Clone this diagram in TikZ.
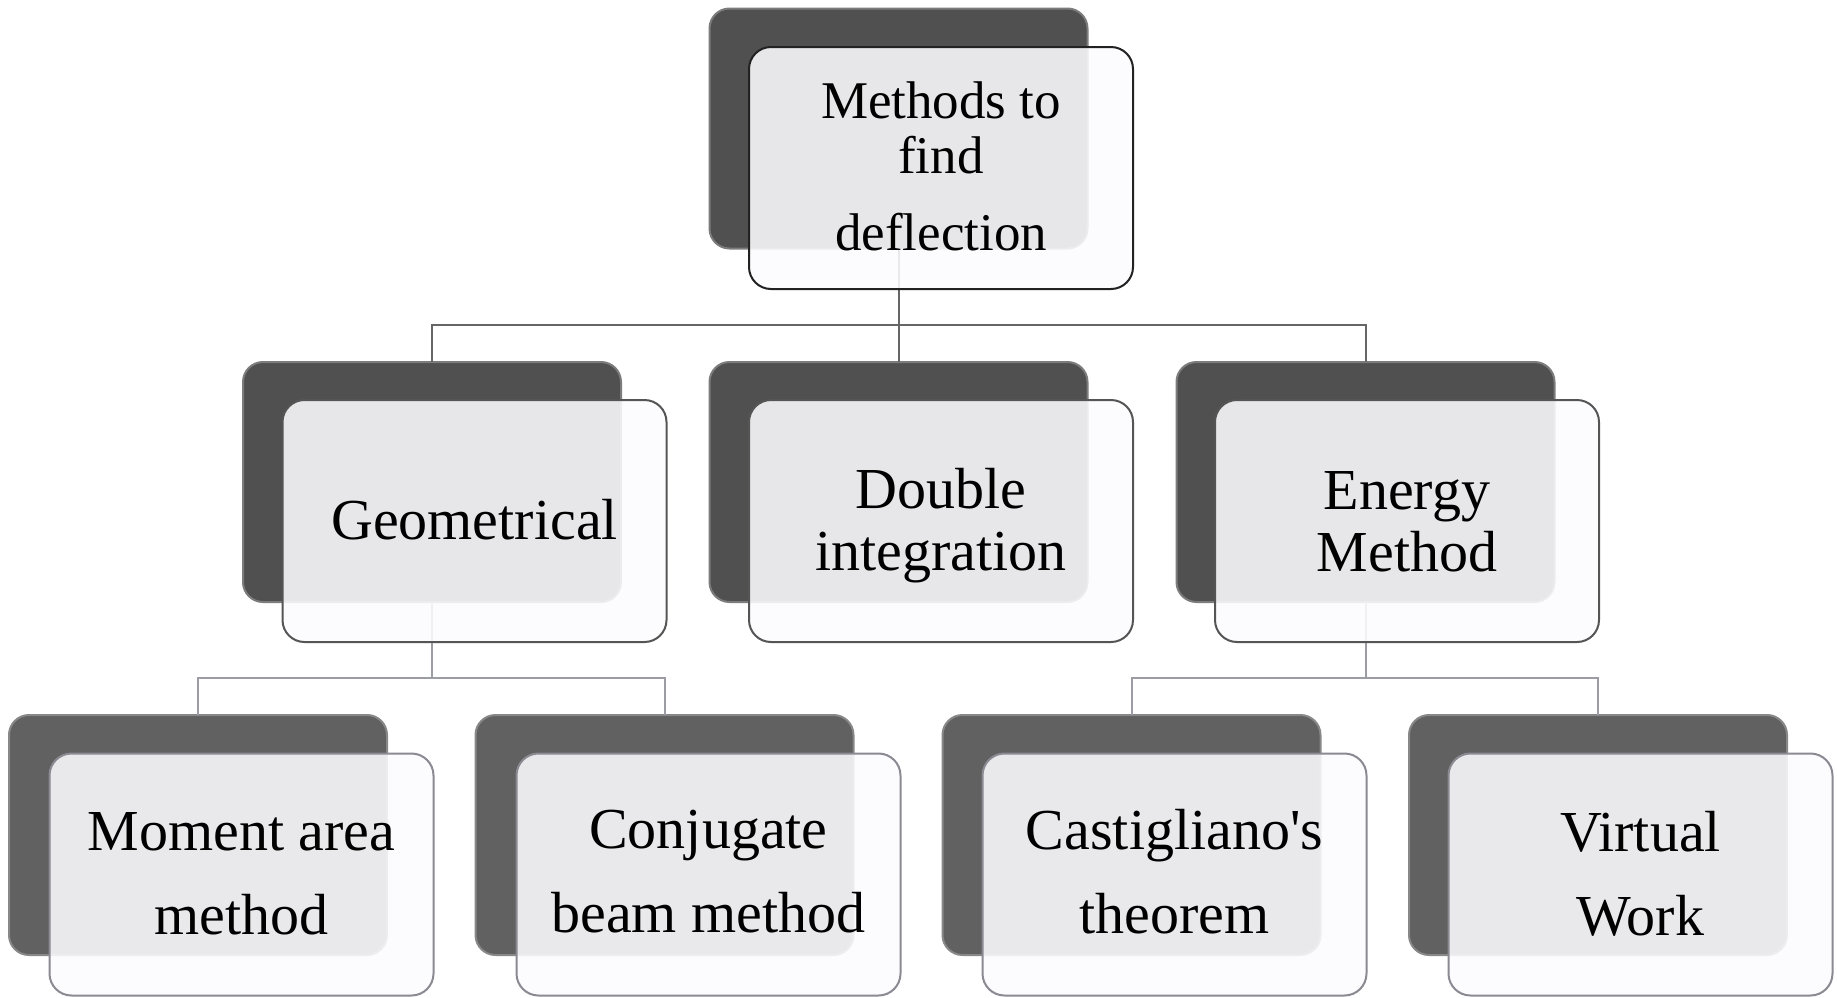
\documentclass[tikz,border=0pt]{standalone}
\usepackage{fontspec}
\setmainfont{Liberation Serif}
\usetikzlibrary{calc}
\definecolor{darkA}{RGB}{80,80,80}
\definecolor{darkB}{RGB}{97,97,97}
\definecolor{frontfill}{RGB}{252,251,254}
\definecolor{borderA}{RGB}{34,34,34}
\definecolor{borderB}{RGB}{85,85,85}
\definecolor{borderC}{RGB}{138,138,146}
\definecolor{connA}{RGB}{102,102,102}
\definecolor{connB}{RGB}{156,156,164}
\tikzset{
  backbox/.style={rectangle, rounded corners=10pt, minimum width=189pt, minimum height=120pt,
    inner sep=0pt, outer sep=0pt, fill=#1, draw=#1!75!white, line width=1pt},
  frontbox/.style={rectangle, rounded corners=11pt, minimum width=192pt, minimum height=121pt,
    inner sep=0pt, outer sep=0pt, fill=frontfill, fill opacity=0.88, draw=#1, draw opacity=1, line width=1pt},
  conn/.style={draw=#1, line width=1pt},
  txt/.style={anchor=base, inner sep=0pt, font=\fontsize{29pt}{31pt}\selectfont},
  toptxt/.style={anchor=base, inner sep=0pt, font=\fontsize{26.5pt}{27.5pt}\selectfont},
  bottxt/.style={anchor=base, inner sep=0pt, font=\fontsize{29pt}{42pt}\selectfont}
}
\begin{document}
\begin{tikzpicture}[x=0.5pt,y=-0.5pt]
\useasboundingbox[fill=white] (0,0) rectangle (1837,997);
% back boxes
\node[backbox=darkA] (d0) at (898.5,128.5) {};
\node[backbox=darkA] (d1) at (432,482) {};
\node[backbox=darkA] (d2) at (898.5,482) {};
\node[backbox=darkA] (d3) at (1365.5,482) {};
\node[backbox=darkB] (d4) at (198,835) {};
\node[backbox=darkB] (d5) at (664.5,835) {};
\node[backbox=darkB] (d6) at (1131.5,835) {};
\node[backbox=darkB] (d7) at (1598,835) {};
% buses
\coordinate (busA) at (0,325);
\coordinate (busB) at (0,678);
% connectors
\draw[conn=connA] (d0.south) |- (d1.north |- busA) -- (d1.north);
\draw[conn=connA] (d0.south) |- (d3.north |- busA) -- (d3.north);
\draw[conn=connA] (d0.south) -- (d2.north);
\draw[conn=connB] (d1.south) |- (d4.north |- busB) -- (d4.north);
\draw[conn=connB] (d1.south) |- (d5.north |- busB) -- (d5.north);
\draw[conn=connB] (d3.south) |- (d6.north |- busB) -- (d6.north);
\draw[conn=connB] (d3.south) |- (d7.north |- busB) -- (d7.north);
% front boxes
\node[frontbox=borderA] (f0) at (941,168) {};
\node[frontbox=borderB] (f1) at (474.5,521) {};
\node[frontbox=borderB] (f2) at (941,521) {};
\node[frontbox=borderB] (f3) at (1407,521) {};
\node[frontbox=borderC] (f4) at (241.5,874.5) {};
\node[frontbox=borderC] (f5) at (708.5,874.5) {};
\node[frontbox=borderC] (f6) at (1174.5,874.5) {};
\node[frontbox=borderC] (f7) at (1640.5,874.5) {};
% texts
\node[toptxt] (t0) at (941,118) {\begin{tabular}[t]{@{}c@{}}Methods to\\ find\\[11pt] deflection\end{tabular}};
\node[txt] (t1) at (474.5,539) {Geometrical};
\node[txt] (t2) at (941,508) {\begin{tabular}[t]{@{}c@{}}Double\\ integration\end{tabular}};
\node[txt] (t3) at (1407,509) {\begin{tabular}[t]{@{}c@{}}Energy\\ Method\end{tabular}};
\node[bottxt] (t4) at (241.5,850) {\begin{tabular}[t]{@{}c@{}}Moment area\\ method\end{tabular}};
\node[bottxt] (t5) at (708.5,848) {\begin{tabular}[t]{@{}c@{}}Conjugate\\ beam method\end{tabular}};
\node[bottxt] (t6) at (1174.5,849) {\begin{tabular}[t]{@{}c@{}}Castigliano\textquotesingle s\\ theorem\end{tabular}};
\node[bottxt] (t7) at (1640.5,851) {\begin{tabular}[t]{@{}c@{}}Virtual\\ Work\end{tabular}};
\end{tikzpicture}
\end{document}
